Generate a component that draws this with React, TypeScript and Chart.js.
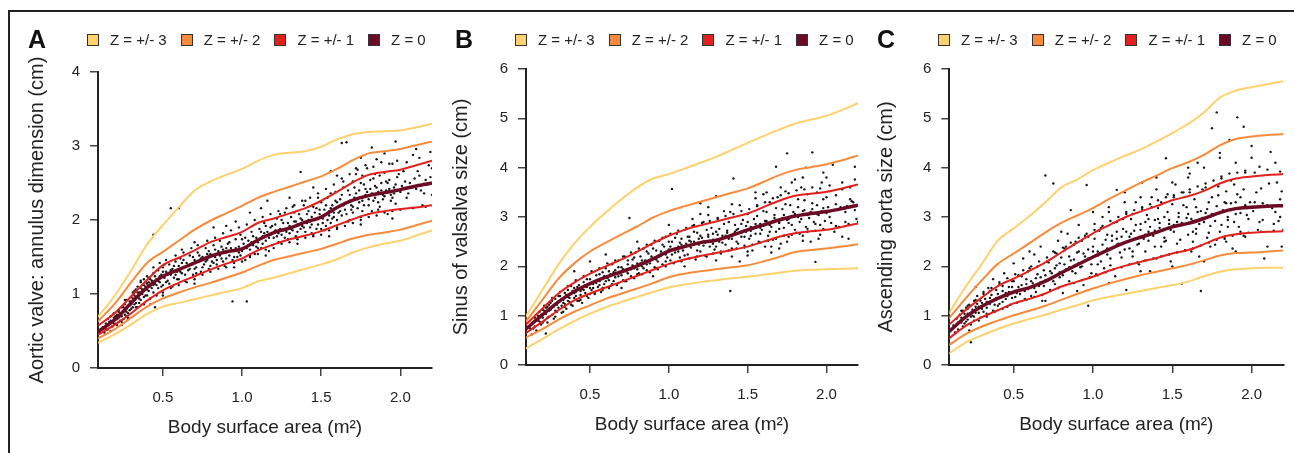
import React, { useEffect, useRef } from "react";
import { Chart, registerables } from "chart.js";

Chart.register(...registerables);

const FONT = "'Liberation Sans', Arial, Helvetica, sans-serif";

// ---------- shared ----------
const X_GRID = [0.09, 0.2, 0.3, 0.4, 0.5, 0.6, 0.7, 0.8, 0.9, 1.0, 1.1, 1.2, 1.3, 1.4, 1.5, 1.6, 1.7, 1.8, 1.9, 2.0, 2.1, 2.2];
const X_TICKS = [0.5, 1.0, 1.5, 2.0];
const Y_TICKS_A = [0, 1, 2, 3, 4];
const Y_TICKS_BC = [0, 1, 2, 3, 4, 5, 6];
const LEGEND_LABELS = ["Z = +/- 3", "Z = +/- 2", "Z = +/- 1", "Z = 0"];
const X_TITLE = "Body surface area (m²)";

// ---------- panel A : aortic valve annulus ----------
const A_P3 = [0.69, 0.99, 1.32, 1.67, 1.93, 2.17, 2.4, 2.52, 2.61, 2.69, 2.8, 2.88, 2.91, 2.93, 2.99, 3.09, 3.16, 3.19, 3.2, 3.21, 3.25, 3.3];
const A_P2 = [0.63, 0.88, 1.16, 1.42, 1.57, 1.72, 1.87, 1.99, 2.09, 2.19, 2.3, 2.38, 2.45, 2.52, 2.59, 2.69, 2.81, 2.9, 2.93, 2.96, 3.01, 3.06];
const A_P1 = [0.57, 0.75, 0.97, 1.19, 1.39, 1.49, 1.59, 1.7, 1.77, 1.84, 1.96, 2.02, 2.09, 2.16, 2.26, 2.38, 2.51, 2.61, 2.65, 2.68, 2.74, 2.8];
const A_Z0 = [0.49, 0.66, 0.88, 1.09, 1.24, 1.33, 1.42, 1.51, 1.57, 1.61, 1.73, 1.83, 1.89, 1.97, 2.04, 2.17, 2.27, 2.33, 2.37, 2.41, 2.46, 2.5];
const A_M1 = [0.45, 0.59, 0.74, 0.91, 1.05, 1.15, 1.24, 1.33, 1.41, 1.48, 1.59, 1.67, 1.74, 1.79, 1.85, 1.93, 2.01, 2.08, 2.12, 2.15, 2.17, 2.2];
const A_M2 = [0.4, 0.53, 0.68, 0.83, 0.94, 1.02, 1.09, 1.15, 1.22, 1.29, 1.38, 1.46, 1.51, 1.56, 1.61, 1.68, 1.75, 1.8, 1.83, 1.87, 1.93, 1.99];
const A_M3 = [0.34, 0.46, 0.59, 0.73, 0.83, 0.88, 0.93, 0.98, 1.03, 1.08, 1.17, 1.22, 1.28, 1.34, 1.4, 1.47, 1.56, 1.63, 1.68, 1.72, 1.79, 1.86];
const A_PTS = [
  0.12,0.55, 0.13,0.48, 0.14,0.6, 0.15,0.52, 0.15,0.66, 0.16,0.58, 0.17,0.5, 0.17,0.7, 0.18,0.62, 0.18,0.56, 0.19,0.68, 0.19,0.74,
  0.2,0.6, 0.2,0.66, 0.21,0.72, 0.21,0.58, 0.22,0.78, 0.22,0.68, 0.23,0.64, 0.23,0.74, 0.24,0.7, 0.24,0.82, 0.25,0.76, 0.25,0.66,
  0.26,0.86, 0.26,0.72, 0.27,0.8, 0.27,0.92, 0.28,0.74, 0.28,0.84, 0.29,0.9, 0.29,0.78, 0.3,0.96, 0.3,0.86, 0.31,0.82, 0.31,1.02,
  0.32,0.92, 0.32,0.98, 0.33,0.88, 0.33,1.06, 0.34,0.96, 0.34,1.1, 0.35,1.02, 0.35,0.94, 0.36,1.08, 0.36,1.16, 0.37,1.0, 0.37,1.12,
  0.38,1.04, 0.38,1.2, 0.39,1.1, 0.39,0.98, 0.4,1.14, 0.4,1.06, 0.41,1.22, 0.42,1.1, 0.42,0.86, 0.43,1.18, 0.44,1.02, 0.44,1.28,
  0.45,1.14, 0.45,0.82, 0.46,1.2, 0.47,1.08, 0.47,1.32, 0.48,1.16, 0.49,1.26, 0.5,1.12, 0.5,1.36, 0.51,1.22, 0.52,1.3, 0.53,1.18,
  0.54,1.4, 0.55,1.26, 0.56,1.1, 0.56,1.34, 0.57,1.22, 0.58,1.44, 0.59,1.3, 0.6,1.2, 0.6,1.38, 0.61,1.48, 0.62,1.28, 0.63,1.36,
  0.64,1.18, 0.65,1.42, 0.66,1.32, 0.67,1.52, 0.68,1.4, 0.69,1.26, 0.7,1.46, 0.71,1.36, 0.72,1.56, 0.73,1.44, 0.74,1.3, 0.75,1.5,
  0.76,1.4, 0.77,1.62, 0.78,1.46, 0.79,1.34, 0.8,1.54, 0.81,1.44, 0.82,1.66, 0.83,1.5, 0.84,1.4, 0.85,1.58, 0.86,1.72, 0.87,1.48,
  0.88,1.6, 0.89,1.38, 0.9,1.56, 0.91,1.68, 0.92,1.52, 0.93,1.62, 0.94,0.9, 0.95,1.58, 0.96,1.74, 0.97,1.5, 0.98,1.64, 0.99,1.8,
  1.0,1.58, 1.01,1.68, 1.02,1.46, 1.03,0.9, 1.04,1.72, 1.05,1.6, 1.06,1.84, 1.07,1.66, 1.08,1.54, 1.09,1.76, 1.1,1.7, 1.11,1.88,
  1.12,1.62, 1.13,1.78, 1.14,1.96, 1.15,1.72, 1.16,1.84, 1.17,1.58, 1.18,1.8, 1.19,1.92, 1.2,1.76, 1.21,1.86, 1.22,2.02, 1.23,1.7,
  1.24,1.88, 1.25,1.8, 1.26,1.96, 1.27,2.1, 1.28,1.84, 1.29,1.74, 1.3,1.92, 1.31,2.04, 1.32,1.86, 1.33,1.98, 1.34,1.78, 1.35,1.94,
  1.36,2.08, 1.37,1.88, 1.38,2.0, 1.39,2.2, 1.4,1.84, 1.41,1.96, 1.42,2.12, 1.43,1.9, 1.44,2.04, 1.45,1.8, 1.46,2.0, 1.47,2.16,
  1.48,1.94, 1.49,2.08, 1.5,1.88, 1.5,2.24, 1.51,2.02, 1.52,2.14, 1.53,1.92, 1.54,2.3, 1.55,2.06, 1.56,1.96, 1.57,2.2, 1.58,2.1,
  1.59,2.38, 1.6,2.0, 1.61,2.18, 1.62,2.28, 1.63,2.06, 1.64,2.44, 1.65,2.14, 1.66,2.24, 1.67,1.98, 1.68,2.34, 1.69,2.2, 1.7,2.52,
  1.7,2.1, 1.71,2.3, 1.72,2.62, 1.73,2.16, 1.74,2.4, 1.75,2.04, 1.76,2.26, 1.77,2.48, 1.78,2.34, 1.79,2.7, 1.8,2.2, 1.81,2.42,
  1.82,2.12, 1.83,2.56, 1.84,2.3, 1.85,2.82, 1.86,2.38, 1.87,2.18, 1.88,2.5, 1.89,2.28, 1.9,2.64, 1.91,2.4, 1.92,2.08, 1.93,2.54,
  1.94,2.34, 1.95,2.76, 1.96,2.44, 1.97,2.22, 1.98,2.58, 2.0,2.38, 2.02,2.66, 2.04,2.3, 2.06,2.5, 2.08,2.88, 2.1,2.42, 2.12,2.6,
  2.14,2.2, 2.16,2.54, 2.18,2.74, 2.19,2.92,
  0.55,2.16, 0.6,2.16, 0.44,1.8, 1.66,3.05, 1.63,3.04, 1.97,3.06, 1.37,2.65,
  0.16,0.62, 0.19,0.6, 0.21,0.66, 0.23,0.7, 0.24,0.62, 0.26,0.78, 0.27,0.7, 0.29,0.84, 0.3,0.8, 0.32,0.86, 0.33,0.96, 0.35,0.88,
  0.36,1.0, 0.38,0.96, 0.39,1.16, 0.41,1.04, 0.43,1.08, 0.46,1.12, 0.48,1.24, 0.52,1.16, 0.55,1.32, 0.58,1.26, 0.62,1.42, 0.66,1.38,
  0.7,1.34, 0.74,1.48, 0.78,1.54, 0.82,1.42, 0.86,1.52, 0.9,1.62, 0.94,1.46, 0.98,1.56, 1.02,1.76, 1.06,1.7, 1.1,1.62, 1.14,1.82,
  1.18,1.9, 1.22,1.78, 1.26,1.86, 1.3,1.82, 1.34,1.98, 1.38,1.92, 1.42,2.0, 1.44,1.94, 1.46,2.1, 1.48,2.02, 1.52,2.06, 1.54,2.0,
  1.56,2.16, 1.58,2.04, 1.6,2.24, 1.62,2.12, 1.64,2.2, 1.66,2.08, 1.68,2.26, 1.7,2.18, 1.72,2.36, 1.74,2.24, 1.76,2.3, 1.78,2.42,
  1.8,2.28, 1.82,2.36, 1.84,2.46, 1.86,2.24, 1.88,2.4, 1.9,2.32, 1.92,2.5, 1.94,2.26, 1.96,2.36, 2.01,2.46, 2.05,2.36, 2.09,2.56,
  2.13,2.4, 2.17,2.48, 2.2,2.34,
  0.14,0.52, 0.17,0.64, 0.2,0.7, 0.22,0.62, 0.25,0.82, 0.27,0.76, 0.28,0.66, 0.3,0.9, 0.31,0.94, 0.33,0.82, 0.34,1.02, 0.36,0.92,
  0.37,1.06, 0.38,1.12, 0.4,0.98, 0.41,1.16, 0.42,1.2, 0.44,1.12, 0.45,1.24, 0.47,1.18, 0.49,1.1, 0.5,1.3, 0.51,1.4, 0.53,1.26,
  0.54,1.14, 0.57,1.38, 0.59,1.2, 0.61,1.3, 0.63,1.46, 0.64,1.26, 0.67,1.34, 0.69,1.5, 0.71,1.28, 0.73,1.52, 0.75,1.36, 0.77,1.44,
  0.79,1.58, 0.8,1.38, 0.83,1.6, 0.84,1.46, 0.87,1.64, 0.88,1.44, 0.9,1.48, 0.92,1.7, 0.95,1.5, 0.96,1.62, 0.99,1.52, 1.0,1.74,
  1.03,1.62, 1.05,1.52, 1.07,1.78, 1.09,1.64, 1.12,1.84, 1.13,1.68, 1.15,1.92, 1.17,1.76, 1.19,1.66, 1.21,1.94, 1.23,1.82, 1.25,2.0,
  1.27,1.76, 1.29,1.96, 1.31,1.88, 1.33,2.1, 1.35,1.84, 1.37,2.02, 1.39,1.9, 1.41,2.08, 1.43,1.98, 1.45,2.18, 1.47,1.88, 1.49,2.14,
  1.51,1.96, 1.53,2.2, 1.55,2.12, 1.57,2.02, 1.59,2.26, 1.61,2.1, 1.63,2.34, 1.65,2.22, 1.67,2.4, 1.69,2.14, 1.71,2.44, 1.73,2.28,
  1.75,2.5, 1.77,2.2, 1.79,2.38, 1.81,2.54, 1.83,2.26, 1.85,2.44, 1.87,2.6, 1.89,2.34, 1.91,2.52, 1.93,2.42, 1.95,2.3, 1.97,2.48,
  1.99,2.62, 2.03,2.52, 2.07,2.44, 2.11,2.66, 2.15,2.36, 2.19,2.58, 1.72,2.7, 1.76,2.6, 1.84,2.62, 1.64,2.52, 1.56,2.36, 1.48,2.3,
  1.4,2.26, 1.32,2.18, 1.24,2.08, 1.6,1.9, 1.68,2.0, 1.76,2.12, 1.86,2.14, 1.52,1.86, 1.44,1.82,
];
const A_PTS_WIDE = [
  0.22,0.76, 0.24,0.58, 0.26,0.92, 0.28,0.68, 0.32,1.04, 0.34,0.82, 0.36,1.18, 0.38,0.86, 0.4,1.24, 0.42,0.94, 0.44,1.36, 0.46,0.98,
  0.48,1.42, 0.5,1.02, 0.52,1.46, 0.55,1.08, 0.58,1.52, 0.6,1.12, 0.63,1.56, 0.65,1.16, 0.68,1.62, 0.7,1.2, 0.72,1.66, 0.75,1.26,
  0.78,1.72, 0.8,1.3, 0.83,1.76, 0.85,1.34, 0.88,1.82, 0.9,1.36, 0.93,1.86, 0.95,1.42, 0.98,1.9, 1.0,1.44, 1.03,1.94, 1.05,1.5,
  1.08,2.0, 1.1,1.54, 1.13,2.04, 1.15,1.6, 1.18,2.08, 1.2,1.62, 1.23,2.12, 1.25,1.68, 1.28,2.16, 1.3,1.7, 1.33,2.2, 1.35,1.74,
  1.38,2.26, 1.4,1.76, 1.43,2.3, 1.45,1.78, 1.48,2.36, 1.5,1.8, 1.53,2.42, 1.55,1.86, 1.58,2.48, 1.6,1.88, 1.63,2.56, 1.65,1.92,
  1.68,2.62, 1.7,1.96, 1.73,2.68, 1.75,2.0, 1.78,2.74, 1.8,2.04, 1.83,2.72, 1.85,2.06, 1.88,2.78, 1.9,2.1, 1.93,2.76, 1.95,2.12,
  1.98,2.8, 2.0,2.14, 2.04,2.78, 2.08,2.16, 2.12,2.84, 2.16,2.18, 2.2,2.7,
  0.62,1.6, 0.7,1.7, 0.9,1.92, 1.12,2.16, 1.3,2.3, 1.45,2.44, 1.6,2.6, 1.75,2.84, 1.9,2.9, 0.5,0.98, 0.7,1.14, 0.95,1.36, 1.15,1.52,
  1.35,1.68, 1.55,1.78, 1.75,1.94, 1.95,2.02, 1.16,2.26, 1.05,2.1, 1.56,2.66, 1.82,2.98, 2.1,2.96, 0.82,1.9, 0.96,1.98,
];

// ---------- panel B : sinus of valsalva ----------
const B_P3 = [0.97, 1.53, 2.04, 2.46, 2.8, 3.09, 3.36, 3.6, 3.78, 3.87, 3.98, 4.1, 4.22, 4.36, 4.5, 4.64, 4.77, 4.89, 4.97, 5.05, 5.17, 5.31];
const B_P2 = [0.87, 1.33, 1.75, 2.06, 2.3, 2.48, 2.65, 2.81, 2.99, 3.12, 3.22, 3.31, 3.4, 3.49, 3.58, 3.71, 3.85, 3.95, 4.01, 4.07, 4.15, 4.25];
const B_P1 = [0.81, 1.15, 1.45, 1.67, 1.85, 2.0, 2.14, 2.3, 2.47, 2.62, 2.74, 2.83, 2.91, 2.99, 3.07, 3.2, 3.33, 3.43, 3.47, 3.51, 3.58, 3.66];
const B_Z0 = [0.72, 1.02, 1.28, 1.49, 1.65, 1.78, 1.89, 2.01, 2.15, 2.31, 2.4, 2.48, 2.53, 2.63, 2.74, 2.84, 2.94, 3.02, 3.07, 3.11, 3.17, 3.24];
const B_M1 = [0.64, 0.88, 1.11, 1.31, 1.45, 1.57, 1.69, 1.81, 1.93, 2.05, 2.14, 2.21, 2.27, 2.33, 2.4, 2.5, 2.6, 2.67, 2.71, 2.74, 2.8, 2.87];
const B_M2 = [0.55, 0.73, 0.92, 1.08, 1.21, 1.34, 1.45, 1.55, 1.66, 1.78, 1.85, 1.9, 1.94, 1.98, 2.02, 2.1, 2.19, 2.29, 2.33, 2.36, 2.4, 2.45];
const B_M3 = [0.33, 0.53, 0.72, 0.89, 1.04, 1.17, 1.28, 1.38, 1.48, 1.57, 1.63, 1.68, 1.72, 1.76, 1.79, 1.83, 1.87, 1.91, 1.93, 1.94, 1.95, 1.96];
const B_PTS = [
  0.12,0.74, 0.13,0.62, 0.14,0.86, 0.15,0.78, 0.16,0.92, 0.16,0.7, 0.17,1.0, 0.18,0.88, 0.18,1.08, 0.19,0.82, 0.2,0.96, 0.2,1.12,
  0.21,0.9, 0.22,1.04, 0.22,0.64, 0.23,1.18, 0.24,0.98, 0.24,1.1, 0.25,1.26, 0.26,1.02, 0.26,1.16, 0.27,0.94, 0.28,1.22, 0.28,1.34,
  0.29,1.08, 0.3,1.28, 0.3,1.16, 0.31,1.4, 0.32,1.2, 0.32,1.06, 0.33,1.32, 0.34,1.46, 0.34,1.24, 0.35,1.14, 0.36,1.38, 0.36,1.52,
  0.37,1.28, 0.38,1.44, 0.39,1.2, 0.4,1.56, 0.4,1.36, 0.41,1.48, 0.42,1.3, 0.43,1.62, 0.44,1.42, 0.45,1.54, 0.45,1.26, 0.46,1.68,
  0.47,1.46, 0.48,1.58, 0.49,1.36, 0.5,1.74, 0.51,1.52, 0.52,1.64, 0.53,1.44, 0.54,1.82, 0.55,1.58, 0.56,1.7, 0.57,1.48, 0.58,1.88,
  0.59,1.64, 0.6,1.96, 0.61,1.76, 0.62,1.56, 0.63,1.84, 0.64,2.04, 0.65,1.7, 0.66,1.92, 0.67,1.62, 0.68,2.12, 0.69,1.86, 0.7,1.98,
  0.71,1.72, 0.72,2.2, 0.73,1.9, 0.74,2.04, 0.75,2.98, 0.76,1.8, 0.77,2.14, 0.78,1.96, 0.79,2.28, 0.8,2.06, 0.81,1.86, 0.82,2.2,
  0.83,2.0, 0.84,2.36, 0.85,2.12, 0.86,1.92, 0.87,2.26, 0.88,2.06, 0.89,2.44, 0.9,2.16, 0.91,1.98, 0.92,2.32, 0.93,2.1, 0.94,2.52,
  0.95,2.22, 0.96,2.04, 0.97,2.4, 0.98,2.6, 0.99,2.18, 1.0,2.34, 1.01,2.12, 1.02,2.5, 1.02,3.57, 1.04,2.28, 1.05,2.66, 1.06,2.4,
  1.07,2.18, 1.08,2.56, 1.09,2.32, 1.1,2.74, 1.11,2.46, 1.12,2.24, 1.13,2.6, 1.14,2.38, 1.15,2.82, 1.16,2.5, 1.17,2.14, 1.18,2.68,
  1.19,2.44, 1.2,2.3, 1.21,2.58, 1.22,2.9, 1.23,2.48, 1.24,2.2, 1.25,2.64, 1.26,2.4, 1.27,2.78, 1.28,2.54, 1.29,2.34, 1.3,2.7,
  1.31,2.98, 1.32,2.5, 1.33,2.26, 1.34,2.62, 1.35,2.86, 1.36,2.44, 1.37,2.72, 1.38,2.56, 1.39,3.1, 1.4,2.36, 1.39,1.5, 1.41,2.66,
  1.42,2.84, 1.43,2.5, 1.44,2.76, 1.41,3.78, 1.46,2.6, 1.47,2.94, 1.48,2.42, 1.49,2.7, 1.5,3.06, 1.51,2.56, 1.52,2.8, 1.53,2.32,
  1.54,2.96, 1.55,2.66, 1.56,3.22, 1.57,2.5, 1.58,2.86, 1.59,2.74, 1.6,3.12, 1.61,2.4, 1.62,2.92, 1.63,2.62, 1.64,3.3, 1.65,2.8,
  1.66,2.54, 1.67,3.04, 1.68,2.7, 1.69,3.4, 1.7,2.88, 1.71,2.46, 1.72,3.16, 1.73,2.78, 1.74,3.52, 1.75,2.94, 1.76,2.6, 1.77,3.24,
  1.78,2.84, 1.75,4.29, 1.8,3.06, 1.81,2.68, 1.82,3.36, 1.83,2.9, 1.84,3.6, 1.85,2.52, 1.86,3.14, 1.87,2.8, 1.88,3.46, 1.89,2.98,
  1.93,2.09, 1.91,3.28, 1.91,4.31, 1.93,2.86, 1.94,3.5, 1.95,3.04, 1.96,2.64, 1.97,3.7, 1.98,3.18, 1.99,2.92, 2.0,3.4, 2.02,3.0,
  2.04,4.06, 2.06,3.26, 2.08,2.8, 2.1,3.56, 2.12,3.1, 2.14,2.56, 2.16,3.32, 2.18,4.02, 2.19,2.96, 2.15,3.6, 2.05,2.7, 1.98,3.9,
  1.87,4.0, 1.68,4.02, 1.3,3.42, 1.2,3.28,
  0.17,0.9, 0.19,1.02, 0.21,1.1, 0.23,0.96, 0.25,1.12, 0.27,1.18, 0.29,1.22, 0.31,1.3, 0.33,1.26, 0.35,1.42, 0.37,1.36, 0.39,1.5,
  0.41,1.4, 0.44,1.5, 0.47,1.62, 0.5,1.56, 0.53,1.7, 0.56,1.62, 0.59,1.8, 0.62,1.72, 0.65,1.88, 0.68,1.8, 0.71,1.94, 0.74,1.86,
  0.77,2.02, 0.8,1.94, 0.83,2.12, 0.86,2.04, 0.89,2.2, 0.92,2.14, 0.95,2.3, 0.98,2.24, 1.01,2.4, 1.04,2.36, 1.07,2.48, 1.1,2.42,
  1.13,2.52, 1.16,2.44, 1.19,2.56, 1.22,2.5, 1.25,2.6, 1.28,2.46, 1.31,2.64, 1.34,2.58, 1.37,2.68, 1.4,2.62, 1.43,2.74, 1.46,2.68,
  1.49,2.82, 1.52,2.72, 1.55,2.86, 1.58,2.78, 1.61,2.92, 1.64,2.84, 1.67,2.98, 1.7,2.9, 1.73,3.04, 1.76,2.96, 1.79,3.1, 1.82,3.0,
  1.85,3.12, 1.88,3.04, 1.91,3.16, 1.94,3.06, 1.97,3.12, 2.01,3.2, 2.07,3.14, 2.13,3.22, 2.17,3.3,
  0.14,0.74, 0.15,0.96, 0.18,0.98, 0.2,0.86, 0.22,1.16, 0.24,1.22, 0.26,1.3, 0.28,1.1, 0.3,1.4, 0.32,1.34, 0.34,1.18, 0.36,1.3,
  0.38,1.6, 0.4,1.46, 0.42,1.58, 0.44,1.32, 0.46,1.52, 0.48,1.74, 0.5,1.44, 0.52,1.56, 0.54,1.66, 0.56,1.84, 0.58,1.56, 0.6,1.7,
  0.62,1.9, 0.64,1.64, 0.66,1.78, 0.68,1.98, 0.7,1.82, 0.72,1.7, 0.74,2.12, 0.76,1.94, 0.78,2.18, 0.8,1.84, 0.82,2.06, 0.84,1.96,
  0.86,2.3, 0.88,2.12, 0.9,2.36, 0.92,1.96, 0.94,2.2, 0.96,2.44, 0.98,2.1, 1.0,2.5, 1.02,2.24, 1.04,2.58, 1.06,2.3, 1.08,2.44,
  1.1,2.22, 1.12,2.6, 1.14,2.5, 1.16,2.7, 1.18,2.32, 1.2,2.62, 1.22,2.42, 1.24,2.74, 1.26,2.52, 1.28,2.66, 1.3,2.4, 1.32,2.76,
  1.34,2.48, 1.36,2.62, 1.38,2.9, 1.4,2.56, 1.42,2.7, 1.44,2.46, 1.46,2.86, 1.48,2.6, 1.5,2.9, 1.52,2.62, 1.54,2.78, 1.56,3.02,
  1.58,2.66, 1.6,2.82, 1.62,3.1, 1.64,2.7, 1.66,2.92, 1.68,3.18, 1.7,2.76, 1.72,2.98, 1.74,3.26, 1.76,2.88, 1.78,3.02, 1.8,2.74,
  1.82,3.2, 1.84,2.96, 1.86,3.34, 1.88,2.76, 1.9,3.1, 1.92,2.9, 1.94,3.24, 1.96,2.84, 1.98,3.36, 2.0,3.08, 2.03,2.88, 2.06,3.44,
  2.09,3.2, 2.12,2.9, 2.15,3.36, 2.18,3.14, 1.71,3.6, 1.78,3.7, 1.85,3.8, 1.62,3.5, 1.55,3.38, 1.45,3.24, 1.35,3.12, 1.25,3.04,
  1.15,2.96, 1.65,2.4, 1.75,2.5, 1.85,2.62, 1.95,2.56, 1.5,2.3, 1.4,2.2,
];
const B_PTS_WIDE = [
  0.21,1.2, 0.23,0.86, 0.26,1.36, 0.28,0.98, 0.31,1.48, 0.33,1.08, 0.36,1.6, 0.38,1.22, 0.41,1.72, 0.43,1.3, 0.46,1.8, 0.48,1.4,
  0.51,1.9, 0.53,1.46, 0.56,1.96, 0.58,1.52, 0.61,2.06, 0.63,1.6, 0.66,2.12, 0.68,1.66, 0.71,2.2, 0.73,1.7, 0.76,2.28, 0.78,1.76,
  0.81,2.36, 0.83,1.84, 0.86,2.44, 0.88,1.88, 0.91,2.52, 0.93,1.94, 0.96,2.58, 0.98,2.0, 1.01,2.66, 1.03,2.06, 1.06,2.72, 1.08,2.1,
  1.11,2.78, 1.13,2.16, 1.16,2.84, 1.18,2.2, 1.21,2.88, 1.23,2.22, 1.26,2.92, 1.28,2.26, 1.31,2.96, 1.33,2.3, 1.36,3.02, 1.38,2.32,
  1.41,3.06, 1.43,2.36, 1.46,3.12, 1.48,2.38, 1.51,3.16, 1.53,2.44, 1.56,3.24, 1.58,2.48, 1.61,3.3, 1.63,2.52, 1.66,3.38, 1.68,2.56,
  1.71,3.44, 1.73,2.62, 1.76,3.48, 1.78,2.64, 1.81,3.54, 1.83,2.66, 1.86,3.56, 1.88,2.7, 1.91,3.6, 1.93,2.72, 1.96,3.58, 1.98,2.76,
  2.02,3.64, 2.06,2.82, 2.1,3.7, 2.14,2.86, 2.18,3.76, 2.2,2.9,
  0.6,2.24, 0.8,2.5, 1.0,2.84, 1.2,3.06, 1.4,3.26, 1.6,3.46, 1.8,3.76, 2.0,3.8, 0.7,1.56, 0.9,1.8, 1.1,2.0, 1.3,2.12, 1.5,2.22,
  1.7,2.36, 1.9,2.5, 2.1,2.6, 0.5,2.1, 0.4,1.9, 1.25,3.2, 1.55,3.5, 1.45,2.1, 1.65,2.28,
];

// ---------- panel C : ascending aorta ----------
const C_P3 = [1.04, 1.6, 2.05, 2.52, 2.77, 3.02, 3.3, 3.6, 3.76, 3.95, 4.1, 4.24, 4.37, 4.53, 4.7, 4.89, 5.12, 5.42, 5.56, 5.63, 5.69, 5.75];
const C_P2 = [0.94, 1.36, 1.72, 2.05, 2.26, 2.47, 2.69, 2.88, 3.03, 3.18, 3.36, 3.53, 3.69, 3.84, 3.99, 4.11, 4.26, 4.45, 4.58, 4.63, 4.66, 4.68];
const C_P1 = [0.81, 1.12, 1.37, 1.6, 1.75, 1.91, 2.08, 2.28, 2.48, 2.67, 2.83, 2.99, 3.11, 3.22, 3.34, 3.42, 3.53, 3.68, 3.78, 3.82, 3.85, 3.87];
const C_Z0 = [0.67, 0.98, 1.19, 1.35, 1.48, 1.57, 1.7, 1.87, 2.03, 2.19, 2.34, 2.48, 2.59, 2.69, 2.8, 2.87, 2.97, 3.09, 3.17, 3.2, 3.22, 3.23];
const C_M1 = [0.535, 0.8, 0.97, 1.11, 1.25, 1.34, 1.45, 1.59, 1.69, 1.79, 1.91, 2.01, 2.09, 2.17, 2.26, 2.33, 2.45, 2.58, 2.65, 2.68, 2.7, 2.71];
const C_M2 = [0.4, 0.63, 0.78, 0.9, 1.01, 1.1, 1.2, 1.32, 1.44, 1.55, 1.65, 1.74, 1.82, 1.89, 1.96, 2.03, 2.12, 2.22, 2.27, 2.28, 2.3, 2.32];
const C_M3 = [0.23, 0.46, 0.6, 0.73, 0.84, 0.93, 1.02, 1.12, 1.21, 1.31, 1.38, 1.44, 1.5, 1.56, 1.62, 1.69, 1.8, 1.89, 1.94, 1.96, 1.97, 1.97];
const C_PTS = [
  0.12,0.8, 0.13,0.66, 0.14,0.94, 0.15,0.72, 0.16,1.02, 0.17,0.86, 0.18,1.1, 0.18,0.78, 0.19,0.96, 0.2,1.16, 0.2,0.88, 0.21,1.04,
  0.22,0.7, 0.22,1.22, 0.23,0.98, 0.23,0.46, 0.24,1.12, 0.25,1.3, 0.25,0.9, 0.26,1.06, 0.27,1.4, 0.26,1.58, 0.28,1.18, 0.29,0.96,
  0.3,1.26, 0.31,1.48, 0.31,1.08, 0.32,1.34, 0.33,1.16, 0.34,1.56, 0.35,1.24, 0.36,1.42, 0.37,1.74, 0.37,1.1, 0.38,1.32, 0.39,1.52,
  0.4,1.2, 0.41,1.64, 0.42,1.38, 0.43,1.28, 0.44,1.86, 0.45,1.46, 0.46,1.18, 0.47,1.58, 0.5,2.06, 0.49,1.36, 0.5,1.7, 0.51,1.5,
  0.52,1.26, 0.53,1.82, 0.54,1.44, 0.55,1.62, 0.56,2.16, 0.57,1.34, 0.58,1.74, 0.59,1.54, 0.6,1.96, 0.61,1.4, 0.62,1.66, 0.63,2.24,
  0.64,1.48, 0.65,1.84, 0.66,1.6, 0.67,2.4, 0.68,1.3, 0.69,1.92, 0.7,1.72, 0.7,3.84, 0.72,2.08, 0.73,1.52, 0.74,1.86, 0.75,2.3,
  0.75,3.68, 0.76,1.64, 0.77,2.02, 0.78,2.52, 0.79,1.78, 0.8,2.18, 0.81,1.46, 0.82,2.36, 0.83,1.94, 0.84,2.66, 0.85,1.7, 0.86,2.12,
  0.86,3.14, 0.88,2.44, 0.89,1.86, 0.9,2.28, 0.91,2.84, 0.92,1.98, 0.93,2.52, 0.94,1.62, 0.95,2.2, 0.96,3.65, 0.97,2.6, 0.97,1.2,
  0.99,2.04, 1.0,2.4, 1.01,2.86, 1.02,1.84, 1.03,2.3, 1.04,2.72, 1.05,2.1, 1.06,3.0, 1.07,1.96, 1.08,2.54, 1.09,2.24, 1.1,3.2,
  1.11,2.02, 1.12,2.62, 1.13,2.38, 1.14,1.8, 1.15,2.9, 1.16,2.46, 1.15,3.55, 1.18,2.18, 1.19,2.76, 1.2,2.34, 1.21,3.1, 1.21,1.52,
  1.23,2.6, 1.24,2.96, 1.25,2.2, 1.26,2.72, 1.27,3.3, 1.28,2.44, 1.29,2.04, 1.3,2.86, 1.31,3.7, 1.32,2.56, 1.33,2.3, 1.34,3.04,
  1.35,2.7, 1.36,1.9, 1.37,3.4, 1.38,2.62, 1.39,2.94, 1.4,2.16, 1.41,3.18, 1.42,2.78, 1.43,2.4, 1.46,4.19, 1.45,3.0, 1.46,2.52,
  1.47,3.46, 1.48,2.86, 1.49,2.1, 1.5,3.26, 1.51,2.7, 1.52,3.66, 1.53,2.46, 1.54,3.08, 1.56,1.65, 1.56,2.88, 1.57,3.5, 1.58,2.32,
  1.59,3.2, 1.6,2.64, 1.61,3.88, 1.62,2.96, 1.63,2.5, 1.64,3.36, 1.65,2.76, 1.66,4.1, 1.67,2.2, 1.68,3.12, 1.68,1.5, 1.7,2.9,
  1.71,3.6, 1.72,2.58, 1.73,3.3, 1.74,2.82, 1.75,4.8, 1.76,3.04, 1.77,2.44, 1.78,5.12, 1.79,3.44, 1.8,2.7, 1.81,3.78, 1.82,3.14,
  1.83,2.56, 1.84,3.52, 1.85,2.94, 1.86,4.56, 1.87,3.28, 1.88,2.36, 1.89,3.66, 1.9,3.06, 1.91,5.02, 1.92,2.8, 1.93,3.4, 1.95,4.83,
  1.95,2.62, 1.96,3.9, 1.97,3.18, 1.98,2.96, 2.0,4.44, 2.02,3.3, 2.04,2.74, 2.06,3.58, 2.08,2.16, 2.1,3.24, 2.12,4.32, 2.14,2.86,
  2.16,3.7, 2.18,3.0, 2.19,2.4, 2.05,4.02, 2.15,4.1, 2.17,2.92,
  0.17,0.96, 0.19,1.04, 0.21,0.92, 0.24,1.0, 0.26,1.18, 0.28,1.06, 0.3,1.14, 0.33,1.28, 0.35,1.36, 0.38,1.22, 0.4,1.44, 0.43,1.5,
  0.46,1.4, 0.49,1.58, 0.52,1.46, 0.55,1.52, 0.58,1.64, 0.61,1.58, 0.64,1.76, 0.67,1.68, 0.7,1.82, 0.73,1.74, 0.76,1.96, 0.79,1.88,
  0.82,2.04, 0.85,1.98, 0.88,2.14, 0.91,2.06, 0.94,2.26, 0.97,2.16, 1.0,2.3, 1.03,2.22, 1.06,2.44, 1.09,2.36, 1.12,2.52, 1.15,2.44,
  1.18,2.6, 1.21,2.5, 1.24,2.66, 1.27,2.56, 1.3,2.74, 1.33,2.64, 1.36,2.8, 1.39,2.72, 1.42,2.88, 1.45,2.76, 1.48,2.94, 1.51,2.84,
  1.54,3.0, 1.57,2.86, 1.6,3.06, 1.63,2.92, 1.66,3.1, 1.69,2.98, 1.72,3.16, 1.75,3.06, 1.78,3.22, 1.81,3.1, 1.84,3.28, 1.87,3.14,
  1.9,3.3, 1.93,3.08, 1.96,3.24, 2.01,3.12, 2.07,3.28, 2.13,3.18, 2.18,3.36,
  0.15,0.86, 0.17,1.1, 0.19,0.84, 0.21,1.14, 0.23,1.06, 0.25,0.98, 0.27,1.24, 0.29,1.3, 0.31,1.2, 0.33,1.04, 0.35,1.5, 0.37,1.3,
  0.39,1.36, 0.41,1.24, 0.43,1.6, 0.45,1.34, 0.47,1.48, 0.49,1.7, 0.51,1.38, 0.53,1.58, 0.55,1.8, 0.57,1.5, 0.59,1.9, 0.61,1.7,
  0.63,1.56, 0.65,2.0, 0.67,1.78, 0.69,1.6, 0.71,2.1, 0.73,1.9, 0.75,1.7, 0.77,2.26, 0.79,2.06, 0.81,1.82, 0.83,2.4, 0.85,2.2,
  0.87,1.9, 0.89,2.5, 0.91,2.3, 0.93,2.0, 0.95,2.62, 0.97,2.34, 0.99,1.86, 1.01,2.56, 1.03,2.04, 1.05,2.78, 1.07,2.3, 1.09,2.64,
  1.11,2.16, 1.13,2.88, 1.15,2.56, 1.17,2.28, 1.19,2.96, 1.21,2.7, 1.23,2.36, 1.25,3.06, 1.27,2.84, 1.29,2.46, 1.31,3.16, 1.33,2.9,
  1.35,2.52, 1.37,3.2, 1.39,2.4, 1.41,2.96, 1.43,3.3, 1.45,2.58, 1.47,3.1, 1.49,2.74, 1.51,3.4, 1.53,2.9, 1.55,2.54, 1.57,3.24,
  1.59,2.98, 1.61,3.5, 1.63,2.7, 1.65,3.2, 1.67,2.86, 1.69,3.56, 1.71,3.08, 1.73,2.68, 1.75,3.4, 1.77,2.92, 1.79,3.62, 1.81,2.84,
  1.83,3.3, 1.85,3.0, 1.87,3.74, 1.89,2.9, 1.91,3.46, 1.93,2.7, 1.95,3.56, 1.97,3.04, 1.99,3.3, 2.03,3.5, 2.07,2.94, 2.11,3.68,
  2.15,3.1, 2.19,3.52, 1.7,4.0, 1.8,4.2, 1.9,4.1, 1.6,3.8, 1.5,3.7, 1.62,2.3, 1.74,2.4, 1.84,2.5, 1.96,2.6, 1.4,3.56, 1.3,3.4,
  1.2,3.3, 1.1,3.1,
];
const C_PTS_WIDE = [
  0.21,1.2, 0.23,0.82, 0.26,1.32, 0.28,0.9, 0.31,1.44, 0.33,0.98, 0.36,1.56, 0.38,1.08, 0.41,1.68, 0.43,1.14, 0.46,1.76, 0.48,1.22,
  0.51,1.84, 0.53,1.28, 0.56,1.92, 0.58,1.32, 0.61,2.0, 0.63,1.38, 0.66,2.1, 0.68,1.42, 0.71,2.18, 0.73,1.5, 0.76,2.28, 0.78,1.56,
  0.81,2.38, 0.83,1.62, 0.86,2.48, 0.88,1.66, 0.91,2.58, 0.93,1.72, 0.96,2.66, 0.98,1.78, 1.01,2.74, 1.03,1.82, 1.06,2.82, 1.08,1.88,
  1.11,2.92, 1.13,1.94, 1.16,3.0, 1.18,1.98, 1.21,3.06, 1.23,2.04, 1.26,3.14, 1.28,2.08, 1.31,3.2, 1.33,2.12, 1.36,3.26, 1.38,2.16,
  1.41,3.34, 1.43,2.2, 1.46,3.4, 1.48,2.24, 1.51,3.44, 1.53,2.28, 1.56,3.5, 1.58,2.32, 1.61,3.56, 1.63,2.36, 1.66,3.62, 1.68,2.42,
  1.71,3.68, 1.73,2.48, 1.76,3.74, 1.78,2.54, 1.81,3.82, 1.83,2.6, 1.86,3.88, 1.88,2.62, 1.91,3.9, 1.93,2.66, 1.96,3.94, 1.98,2.68,
  2.02,3.9, 2.06,2.7, 2.1,3.96, 2.14,2.72, 2.18,3.92, 2.2,2.74,
  0.6,2.3, 0.8,2.7, 1.0,3.1, 1.2,3.5, 1.4,3.8, 1.6,4.0, 1.8,4.3, 2.0,4.2, 0.7,1.3, 0.9,1.5, 1.1,1.66, 1.3,1.9, 1.5,2.0, 1.7,2.1,
  1.9,2.3, 2.1,2.4, 1.25,2.3, 1.45,2.5, 1.65,2.66, 1.85,2.8, 2.05,2.9, 1.15,2.7, 1.35,2.96,
];

// ---------- styling ----------
const COL3 = "#fdd26e";
const COL2 = "#f68b3c";
const COL1 = "#e3211c";
const COL0 = "#6e0b24";
const LEGEND_COLORS = [COL3, COL2, COL1, COL0];
const CURVE_STYLE = [
  { label: "Z = +3", color: COL3, width: 2, order: 3 },
  { label: "Z = +2", color: COL2, width: 2, order: 2 },
  { label: "Z = +1", color: COL1, width: 2, order: 1 },
  { label: "Z = 0", color: COL0, width: 3.5, order: 0 },
  { label: "Z = -1", color: COL1, width: 2, order: 1 },
  { label: "Z = -2", color: COL2, width: 2, order: 2 },
  { label: "Z = -3", color: COL3, width: 2, order: 3 },
];

const PANELS = [
  {
    letter: "A", left: 10, width: 426, xMin: 0.09, yMax: 4, yTicks: Y_TICKS_A,
    yTitle: "Aortic valve: annulus dimension (cm)",
    curves: [A_P3, A_P2, A_P1, A_Z0, A_M1, A_M2, A_M3], pts: A_PTS.concat(A_PTS_WIDE),
    padTop: 72, padRight: 3, yAxisW: 88, xAxisH: 85, yTitlePad: 15.6, xTitlePad: 13.6,
    legendLeft: 87, letterLeft: 28,
  },
  {
    letter: "B", left: 436, width: 426, xMin: 0.094, yMax: 6, yTicks: Y_TICKS_BC,
    yTitle: "Sinus of valsalva size (cm)",
    curves: [B_P3, B_P2, B_P1, B_Z0, B_M1, B_M2, B_M3], pts: B_PTS.concat(B_PTS_WIDE),
    padTop: 69, padRight: 3, yAxisW: 90, xAxisH: 88, yTitlePad: 14.3, xTitlePad: 16.6,
    legendLeft: 515, letterLeft: 455,
  },
  {
    letter: "C", left: 862, width: 432, xMin: 0.094, yMax: 6, yTicks: Y_TICKS_BC,
    yTitle: "Ascending aorta size (cm)",
    curves: [C_P3, C_P2, C_P1, C_Z0, C_M1, C_M2, C_M3], pts: C_PTS.concat(C_PTS_WIDE),
    padTop: 69, padRight: 10.7, yAxisW: 87.3, xAxisH: 88, yTitlePad: 13.3, xTitlePad: 16.6,
    legendLeft: 938, letterLeft: 877,
  },
];

type PanelCfg = (typeof PANELS)[number];

function Panel({ p }: { p: PanelCfg }) {
  const ref = useRef<HTMLCanvasElement>(null);

  useEffect(() => {
    if (!ref.current) return;
    const pts: { x: number; y: number }[] = [];
    for (let i = 0; i + 1 < p.pts.length; i += 2) pts.push({ x: p.pts[i], y: p.pts[i + 1] });

    const lineSets = p.curves.map((ys, k) => ({
      type: "line" as const,
      label: CURVE_STYLE[k].label,
      data: X_GRID.map((x, i) => ({ x, y: ys[i] })),
      borderColor: CURVE_STYLE[k].color,
      backgroundColor: CURVE_STYLE[k].color,
      borderWidth: CURVE_STYLE[k].width,
      pointRadius: 0,
      cubicInterpolationMode: "monotone" as const,
      fill: false,
      order: CURVE_STYLE[k].order,
    }));

    const chart = new Chart(ref.current, {
      type: "line",
      data: {
        datasets: [
          ...lineSets,
          {
            type: "scatter" as const,
            label: "patients",
            data: pts,
            pointRadius: 1.2,
            pointBackgroundColor: "#151515",
            pointBorderWidth: 0,
            showLine: false,
            order: 10,
          },
        ] as any,
      },
      options: {
        animation: false,
        responsive: false,
        maintainAspectRatio: false,
        events: [],
        layout: { padding: { left: 0, top: p.padTop, right: p.padRight, bottom: 0 } },
        plugins: { legend: { display: false }, tooltip: { enabled: false }, title: { display: false } },
        scales: {
          x: {
            type: "linear",
            min: p.xMin,
            max: 2.2,
            afterBuildTicks: (s: any) => {
              s.ticks = X_TICKS.map((v) => ({ value: v }));
            },
            afterFit: (s: any) => {
              s.height = p.xAxisH;
            },
            ticks: {
              callback: (v: any) => Number(v).toFixed(1),
              font: { size: 15, family: FONT },
              color: "#222",
              padding: 13,
              maxRotation: 0,
              autoSkip: false,
            },
            grid: { display: true, drawOnChartArea: false, drawTicks: true, tickLength: 8, color: "#444", lineWidth: 1.5 },
            border: { display: true, color: "#222", width: 2 },
            title: {
              display: true,
              text: X_TITLE,
              font: { size: 19, family: FONT },
              color: "#222",
              padding: { top: 0, bottom: p.xTitlePad },
            },
          },
          y: {
            type: "linear",
            min: 0,
            max: p.yMax,
            afterBuildTicks: (s: any) => {
              s.ticks = p.yTicks.map((v) => ({ value: v }));
            },
            afterFit: (s: any) => {
              s.width = p.yAxisW;
            },
            ticks: {
              callback: (v: any) => String(v),
              font: { size: 15, family: FONT },
              color: "#222",
              padding: 10,
              autoSkip: false,
            },
            grid: { display: true, drawOnChartArea: false, drawTicks: true, tickLength: 8, color: "#444", lineWidth: 1.5 },
            border: { display: true, color: "#222", width: 2 },
            title: {
              display: true,
              text: p.yTitle,
              font: { size: 20, family: FONT },
              color: "#222",
              padding: { top: p.yTitlePad - 0.6, bottom: 0 },
            },
          },
        },
      } as any,
    });
    return () => chart.destroy();
  }, [p]);

  return (
    <>
      <canvas
        ref={ref}
        width={p.width}
        height={453}
        style={{ position: "absolute", left: p.left, top: 0, width: p.width, height: 453, display: "block" }}
      />
      <div
        style={{
          position: "absolute",
          left: p.letterLeft,
          top: 27,
          font: `bold 25px ${FONT}`,
          lineHeight: "25px",
          color: "#111",
        }}
      >
        {p.letter}
      </div>
      <div
        style={{
          position: "absolute",
          left: p.legendLeft,
          top: 32,
          height: 15,
          display: "flex",
          alignItems: "center",
          font: `15px ${FONT}`,
          color: "#222",
          whiteSpace: "nowrap",
        }}
      >
        {LEGEND_LABELS.map((t, i) => (
          <div key={t} style={{ display: "flex", alignItems: "center", marginRight: 14 }}>
            <span
              style={{
                display: "inline-block",
                width: 12,
                height: 12,
                boxSizing: "border-box",
                border: "1px solid #333",
                background: LEGEND_COLORS[i],
                marginRight: 11,
              }}
            />
            <span style={{ lineHeight: "15px" }}>{t}</span>
          </div>
        ))}
      </div>
    </>
  );
}

export default function App() {
  return (
    <div
      style={{
        position: "absolute",
        left: 0,
        top: 0,
        width: 1294,
        height: 453,
        background: "#fff",
        overflow: "hidden",
      }}
    >
      {PANELS.map((p) => (
        <Panel key={p.letter} p={p} />
      ))}
      <div
        style={{
          position: "absolute",
          left: 8,
          top: 10,
          width: 1286,
          height: 443,
          borderTop: "2px solid #222",
          borderLeft: "2px solid #222",
          boxSizing: "border-box",
          pointerEvents: "none",
        }}
      />
    </div>
  );
}
